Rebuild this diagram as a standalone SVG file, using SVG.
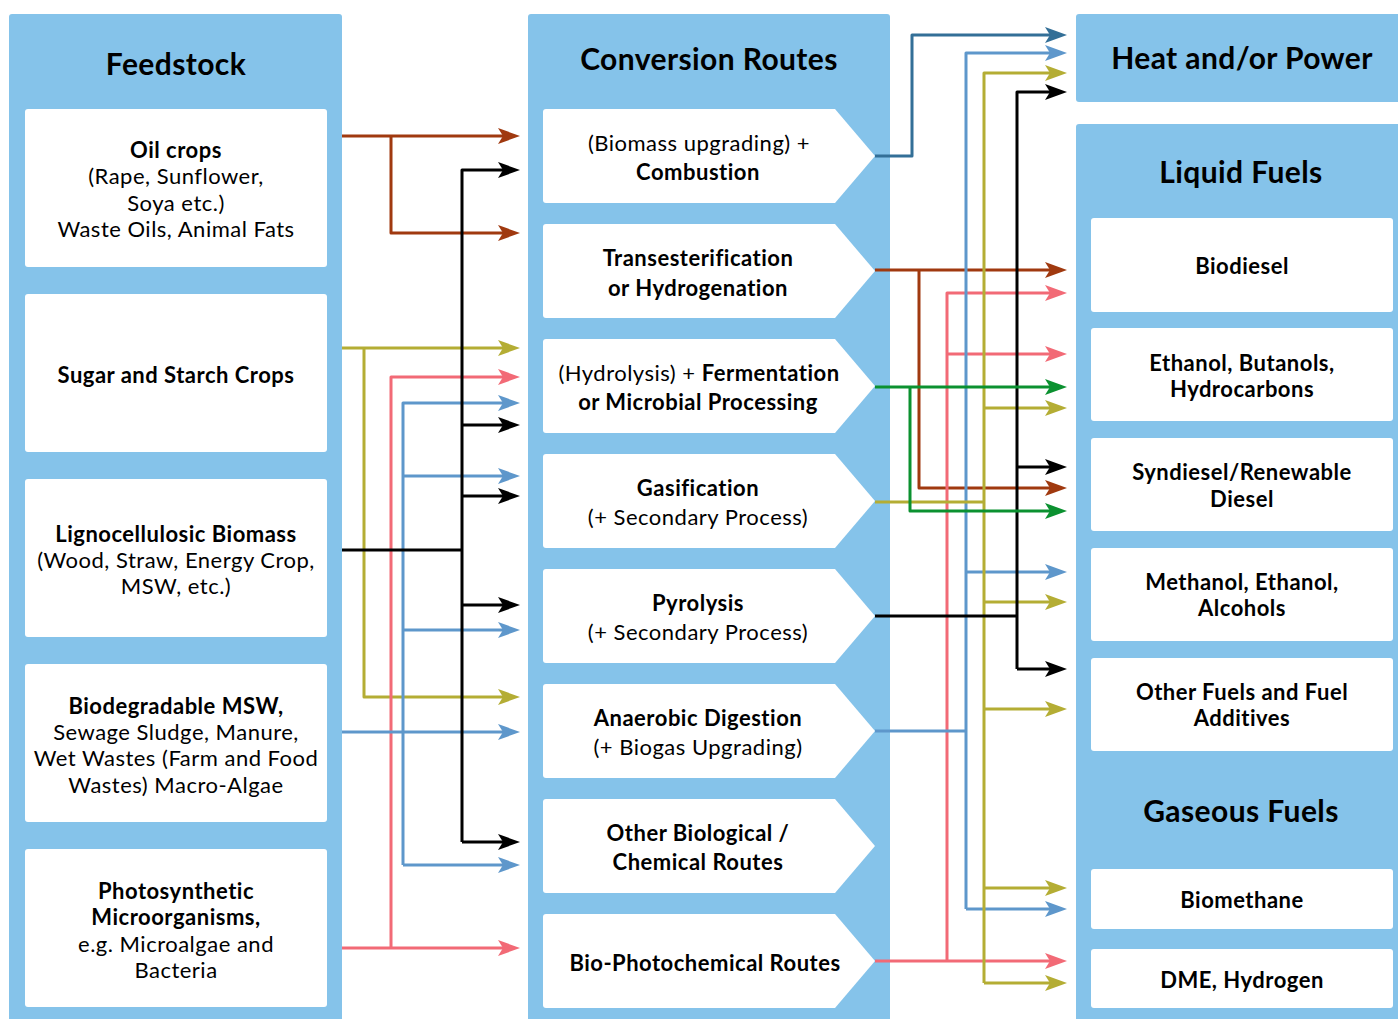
<svg xmlns="http://www.w3.org/2000/svg" width="1398" height="1019" viewBox="0 0 1398 1019">
<style>
.panel{fill:#85C3EA}
.box{fill:#fff}
text{font-family:Lato,"Liberation Sans",sans-serif;fill:#000;text-anchor:middle}
.t{font-size:30px;font-weight:700;letter-spacing:0.4px}
.b{font-size:22px;font-weight:700;letter-spacing:0.5px}
.r{font-size:22px;font-weight:400;letter-spacing:0.5px}
.c{fill:none;stroke-width:3;stroke-linejoin:round}
.brown{stroke:#A0390F}
.olive{stroke:#B4AD34}
.pink{stroke:#F26A76}
.blue{stroke:#5E97CB}
.dblue{stroke:#336F97}
.green{stroke:#0B9130}
.black{stroke:#000}
</style>
<defs>
<marker id="aBrown" markerUnits="userSpaceOnUse" markerWidth="22" markerHeight="16" refX="10" refY="8" orient="auto"><path d="M0,0 L22,8 L0,16 L5,8 Z" fill="#A0390F"/></marker>
<marker id="aOlive" markerUnits="userSpaceOnUse" markerWidth="22" markerHeight="16" refX="10" refY="8" orient="auto"><path d="M0,0 L22,8 L0,16 L5,8 Z" fill="#B4AD34"/></marker>
<marker id="aPink" markerUnits="userSpaceOnUse" markerWidth="22" markerHeight="16" refX="10" refY="8" orient="auto"><path d="M0,0 L22,8 L0,16 L5,8 Z" fill="#F26A76"/></marker>
<marker id="aBlue" markerUnits="userSpaceOnUse" markerWidth="22" markerHeight="16" refX="10" refY="8" orient="auto"><path d="M0,0 L22,8 L0,16 L5,8 Z" fill="#5E97CB"/></marker>
<marker id="aDblue" markerUnits="userSpaceOnUse" markerWidth="22" markerHeight="16" refX="10" refY="8" orient="auto"><path d="M0,0 L22,8 L0,16 L5,8 Z" fill="#336F97"/></marker>
<marker id="aGreen" markerUnits="userSpaceOnUse" markerWidth="22" markerHeight="16" refX="10" refY="8" orient="auto"><path d="M0,0 L22,8 L0,16 L5,8 Z" fill="#0B9130"/></marker>
<marker id="aBlack" markerUnits="userSpaceOnUse" markerWidth="22" markerHeight="16" refX="10" refY="8" orient="auto"><path d="M0,0 L22,8 L0,16 L5,8 Z" fill="#000"/></marker>
<path id="pent" d="M3,0 H292 L332,47 L292,94 H3 Q0,94 0,91 V3 Q0,0 3,0 Z"/>
</defs>

<g id="panels">
<rect class="panel" x="9" y="14" width="333" height="1015" rx="3"/>
<rect class="panel" x="528" y="14" width="362" height="1015" rx="3"/>
<rect class="panel" x="1076" y="14" width="330" height="88" rx="3"/>
<rect class="panel" x="1076" y="124" width="330" height="905" rx="3"/>
</g>

<g id="titles">
<text class="t" x="176" y="75">Feedstock</text>
<text class="t" x="709" y="70">Conversion Routes</text>
<text class="t" x="1242" y="69">Heat and/or Power</text>
<text class="t" x="1241" y="183">Liquid Fuels</text>
<text class="t" x="1241" y="822">Gaseous Fuels</text>
</g>

<g id="feed-oil">
<rect class="box" x="25" y="109" width="302" height="158" rx="3"/>
<text class="b" x="176" y="158">Oil crops</text>
<text class="r" x="176" y="184">(Rape, Sunflower,</text>
<text class="r" x="176" y="211">Soya etc.)</text>
<text class="r" x="176" y="237">Waste Oils, Animal Fats</text>
</g>
<g id="feed-sugar">
<rect class="box" x="25" y="294" width="302" height="158" rx="3"/>
<text class="b" x="176" y="383">Sugar and Starch Crops</text>
</g>
<g id="feed-ligno">
<rect class="box" x="25" y="479" width="302" height="158" rx="3"/>
<text class="b" x="176" y="542">Lignocellulosic Biomass</text>
<text class="r" x="176" y="568">(Wood, Straw, Energy Crop,</text>
<text class="r" x="176" y="594">MSW, etc.)</text>
</g>
<g id="feed-msw">
<rect class="box" x="25" y="664" width="302" height="158" rx="3"/>
<text class="b" x="176" y="714">Biodegradable MSW,</text>
<text class="r" x="176" y="740">Sewage Sludge, Manure,</text>
<text class="r" x="176" y="766">Wet Wastes (Farm and Food</text>
<text class="r" x="176" y="793">Wastes) Macro-Algae</text>
</g>
<g id="feed-photo">
<rect class="box" x="25" y="849" width="302" height="158" rx="3"/>
<text class="b" x="176" y="899">Photosynthetic</text>
<text class="b" x="176" y="925">Microorganisms,</text>
<text class="r" x="176" y="952">e.g. Microalgae and</text>
<text class="r" x="176" y="978">Bacteria</text>
</g>

<g id="route-combustion">
<use href="#pent" class="box" x="543" y="109"/>
<text class="r" x="699" y="151">(Biomass upgrading) +</text>
<text class="b" x="698" y="180">Combustion</text>
</g>
<g id="route-trans">
<use href="#pent" class="box" x="543" y="224"/>
<text class="b" x="698" y="266">Transesterification</text>
<text class="b" x="698" y="296">or Hydrogenation</text>
</g>
<g id="route-ferm">
<use href="#pent" class="box" x="543" y="339"/>
<text class="r" x="699" y="381">(Hydrolysis) + <tspan font-weight="700">Fermentation</tspan></text>
<text class="b" x="698" y="410">or Microbial Processing</text>
</g>
<g id="route-gasif">
<use href="#pent" class="box" x="543" y="454"/>
<text class="b" x="698" y="496">Gasification</text>
<text class="r" x="698" y="525">(+ Secondary Process)</text>
</g>
<g id="route-pyro">
<use href="#pent" class="box" x="543" y="569"/>
<text class="b" x="698" y="611">Pyrolysis</text>
<text class="r" x="698" y="640">(+ Secondary Process)</text>
</g>
<g id="route-ad">
<use href="#pent" class="box" x="543" y="684"/>
<text class="b" x="698" y="726">Anaerobic Digestion</text>
<text class="r" x="698" y="755">(+ Biogas Upgrading)</text>
</g>
<g id="route-other">
<use href="#pent" class="box" x="543" y="799"/>
<text class="b" x="698" y="841">Other Biological /</text>
<text class="b" x="698" y="870">Chemical Routes</text>
</g>
<g id="route-photo">
<use href="#pent" class="box" x="543" y="914"/>
<text class="b" x="705" y="971">Bio-Photochemical Routes</text>
</g>

<g id="out-biodiesel">
<rect class="box" x="1091" y="218" width="302" height="94" rx="3"/>
<text class="b" x="1242" y="274">Biodiesel</text>
</g>
<g id="out-ethanol">
<rect class="box" x="1091" y="328" width="302" height="93" rx="3"/>
<text class="b" x="1242" y="371">Ethanol, Butanols,</text>
<text class="b" x="1242" y="397">Hydrocarbons</text>
</g>
<g id="out-syndiesel">
<rect class="box" x="1091" y="438" width="302" height="93" rx="3"/>
<text class="b" x="1242" y="480">Syndiesel/Renewable</text>
<text class="b" x="1242" y="507">Diesel</text>
</g>
<g id="out-methanol">
<rect class="box" x="1091" y="548" width="302" height="93" rx="3"/>
<text class="b" x="1242" y="590">Methanol, Ethanol,</text>
<text class="b" x="1242" y="616">Alcohols</text>
</g>
<g id="out-other">
<rect class="box" x="1091" y="658" width="302" height="93" rx="3"/>
<text class="b" x="1242" y="700">Other Fuels and Fuel</text>
<text class="b" x="1242" y="726">Additives</text>
</g>
<g id="out-biomethane">
<rect class="box" x="1091" y="869" width="302" height="60" rx="3"/>
<text class="b" x="1242" y="908">Biomethane</text>
</g>
<g id="out-dme">
<rect class="box" x="1091" y="949" width="302" height="59" rx="3"/>
<text class="b" x="1242" y="988">DME, Hydrogen</text>
</g>

<g id="connectors">
<!-- left side -->
<path class="c brown" d="M342,136 H508" marker-end="url(#aBrown)"/>
<path class="c brown" d="M391,136 V233 H508" marker-end="url(#aBrown)"/>
<path class="c olive" d="M342,348 H508" marker-end="url(#aOlive)"/>
<path class="c olive" d="M364,348 V697 H508" marker-end="url(#aOlive)"/>
<path class="c pink" d="M342,948 H508" marker-end="url(#aPink)"/>
<path class="c pink" d="M391,948 V377 H508" marker-end="url(#aPink)"/>
<path class="c blue" d="M342,732 H508" marker-end="url(#aBlue)"/>
<path class="c blue" d="M403,865 V403 H508" marker-end="url(#aBlue)"/>
<path class="c blue" d="M403,476 H508" marker-end="url(#aBlue)"/>
<path class="c blue" d="M403,630 H508" marker-end="url(#aBlue)"/>
<path class="c blue" d="M403,865 H508" marker-end="url(#aBlue)"/>
<path class="c black" d="M342,550 H462"/>
<path class="c black" d="M462,842 V170 H508" marker-end="url(#aBlack)"/>
<path class="c black" d="M462,425 H508" marker-end="url(#aBlack)"/>
<path class="c black" d="M462,496 H508" marker-end="url(#aBlack)"/>
<path class="c black" d="M462,605 H508" marker-end="url(#aBlack)"/>
<path class="c black" d="M462,842 H508" marker-end="url(#aBlack)"/>
<!-- right side -->
<path class="c dblue" d="M875,156 H912 V35 H1055" marker-end="url(#aDblue)"/>
<path class="c brown" d="M875,270 H1055" marker-end="url(#aBrown)"/>
<path class="c brown" d="M919,270 V488 H1055" marker-end="url(#aBrown)"/>
<path class="c pink" d="M875,961 H1055" marker-end="url(#aPink)"/>
<path class="c pink" d="M947,961 V293 H1055" marker-end="url(#aPink)"/>
<path class="c pink" d="M947,354 H1055" marker-end="url(#aPink)"/>
<path class="c blue" d="M875,731 H966"/>
<path class="c blue" d="M966,909 V53 H1055" marker-end="url(#aBlue)"/>
<path class="c blue" d="M966,572 H1055" marker-end="url(#aBlue)"/>
<path class="c blue" d="M966,909 H1055" marker-end="url(#aBlue)"/>
<path class="c olive" d="M875,502 H984"/>
<path class="c olive" d="M984,983 V73 H1055" marker-end="url(#aOlive)"/>
<path class="c olive" d="M984,408 H1055" marker-end="url(#aOlive)"/>
<path class="c olive" d="M984,602 H1055" marker-end="url(#aOlive)"/>
<path class="c olive" d="M984,709 H1055" marker-end="url(#aOlive)"/>
<path class="c olive" d="M984,888 H1055" marker-end="url(#aOlive)"/>
<path class="c olive" d="M984,983 H1055" marker-end="url(#aOlive)"/>
<path class="c black" d="M875,616 H1017"/>
<path class="c black" d="M1017,669 V92 H1055" marker-end="url(#aBlack)"/>
<path class="c black" d="M1017,467 H1055" marker-end="url(#aBlack)"/>
<path class="c black" d="M1017,669 H1055" marker-end="url(#aBlack)"/>
<path class="c green" d="M875,387 H1055" marker-end="url(#aGreen)"/>
<path class="c green" d="M910,387 V511 H1055" marker-end="url(#aGreen)"/>
</g>
</svg>
